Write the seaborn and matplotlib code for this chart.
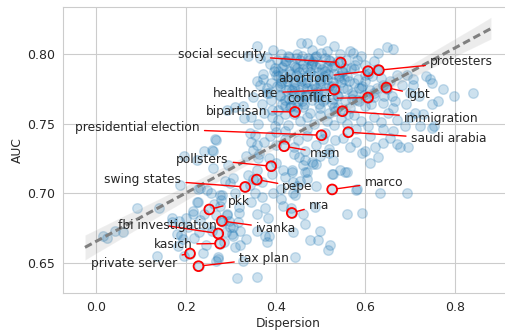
import matplotlib
matplotlib.use("Agg")
import matplotlib.pyplot as plt
import numpy as np
import seaborn as sns

# Background terms: dispersion vs. AUC, grouped by region of the cloud
tail_x = [0.016, 0.023, 0.042, 0.060, 0.090, 0.140, 0.135, 0.168, 0.169, 0.179,
          0.185, 0.190, 0.194, 0.187, 0.196, 0.200, 0.216, 0.227, 0.231, 0.246,
          0.255, 0.276, 0.278, 0.291, 0.298, 0.306, 0.272, 0.268, 0.313, 0.224,
          0.227, 0.216, 0.280, 0.276, 0.291, 0.283, 0.305, 0.302, 0.320, 0.287,
          0.305, 0.298, 0.196, 0.240, 0.260, 0.268, 0.257, 0.265, 0.294, 0.292,
          0.310, 0.328, 0.329, 0.335, 0.320, 0.328, 0.272, 0.224, 0.260, 0.310,
          0.318, 0.250, 0.240, 0.229]
tail_y = [0.669, 0.668, 0.673, 0.672, 0.689, 0.689, 0.655, 0.682, 0.679, 0.671,
          0.680, 0.670, 0.667, 0.706, 0.655, 0.682, 0.685, 0.694, 0.704, 0.702,
          0.700, 0.699, 0.695, 0.685, 0.676, 0.669, 0.654, 0.651, 0.639, 0.694,
          0.703, 0.687, 0.699, 0.691, 0.684, 0.679, 0.676, 0.671, 0.673, 0.709,
          0.711, 0.707, 0.727, 0.730, 0.730, 0.738, 0.731, 0.739, 0.720, 0.760,
          0.762, 0.763, 0.754, 0.727, 0.663, 0.651, 0.653, 0.724, 0.718, 0.700,
          0.690, 0.676, 0.685, 0.672]

tail2_x = [0.205, 0.218, 0.232, 0.244, 0.258, 0.266, 0.284, 0.296, 0.309, 0.318,
           0.182, 0.238, 0.262, 0.289, 0.315]
tail2_y = [0.676, 0.668, 0.681, 0.663, 0.673, 0.684, 0.665, 0.680, 0.661, 0.686,
           0.662, 0.657, 0.692, 0.672, 0.679]

mid_x = [0.339, 0.343, 0.358, 0.358, 0.376, 0.335, 0.376, 0.380, 0.358, 0.413,
         0.413, 0.346, 0.354, 0.393, 0.447, 0.439, 0.391, 0.417, 0.436, 0.469,
         0.462, 0.491, 0.465, 0.480, 0.528, 0.465, 0.528, 0.543, 0.558, 0.525,
         0.555, 0.581, 0.580, 0.633, 0.692, 0.436, 0.439, 0.454, 0.443, 0.462,
         0.465, 0.499, 0.476, 0.495, 0.521, 0.517, 0.558, 0.592, 0.488, 0.443,
         0.438, 0.385, 0.359, 0.383, 0.417, 0.434, 0.484, 0.453, 0.400, 0.370,
         0.360, 0.500, 0.520, 0.610, 0.440, 0.350, 0.370, 0.385, 0.400, 0.420,
         0.470, 0.490]
mid_y = [0.713, 0.706, 0.717, 0.685, 0.689, 0.667, 0.669, 0.665, 0.640, 0.703,
         0.696, 0.694, 0.700, 0.700, 0.705, 0.700, 0.714, 0.717, 0.717, 0.715,
         0.720, 0.721, 0.724, 0.7225, 0.724, 0.715, 0.714, 0.717, 0.715, 0.714,
         0.715, 0.703, 0.702, 0.700, 0.700, 0.715, 0.708, 0.709, 0.699, 0.685,
         0.678, 0.673, 0.666, 0.666, 0.663, 0.659, 0.685, 0.686, 0.690, 0.654,
         0.672, 0.669, 0.673, 0.682, 0.691, 0.689, 0.721, 0.726, 0.722, 0.708,
         0.725, 0.727, 0.729, 0.722, 0.728, 0.710, 0.697, 0.725, 0.735, 0.712,
         0.710, 0.705]

top_x = [0.380, 0.358, 0.395, 0.456, 0.469, 0.502, 0.573, 0.629, 0.649, 0.413,
         0.428, 0.447, 0.514, 0.543, 0.566, 0.339, 0.480, 0.490, 0.662, 0.531]
top_y = [0.798, 0.806, 0.803, 0.808, 0.808, 0.810, 0.801, 0.801, 0.805, 0.8005,
         0.799, 0.800, 0.802, 0.800, 0.802, 0.799, 0.803, 0.799, 0.804, 0.806]

band1_x = [0.387, 0.372, 0.405, 0.397, 0.420, 0.440, 0.455, 0.470, 0.480, 0.500,
           0.510, 0.525, 0.540, 0.555, 0.581, 0.600, 0.590, 0.460, 0.430, 0.415,
           0.620, 0.575, 0.495, 0.445, 0.365]
band1_y = [0.793, 0.786, 0.784, 0.788, 0.795, 0.792, 0.796, 0.790, 0.794, 0.793,
           0.797, 0.791, 0.795, 0.790, 0.796, 0.792, 0.799, 0.789, 0.788, 0.791,
           0.795, 0.789, 0.787, 0.785, 0.797]

band2_x = [0.358, 0.372, 0.365, 0.390, 0.410, 0.425, 0.440, 0.455, 0.470, 0.485,
           0.500, 0.515, 0.530, 0.545, 0.560, 0.575, 0.584, 0.600, 0.615, 0.655,
           0.670, 0.692, 0.707, 0.681, 0.735, 0.744, 0.748, 0.707, 0.640, 0.625,
           0.400, 0.430, 0.460, 0.490, 0.520, 0.550, 0.380, 0.590]
band2_y = [0.781, 0.782, 0.778, 0.779, 0.777, 0.781, 0.779, 0.783, 0.780, 0.784,
           0.779, 0.782, 0.786, 0.780, 0.784, 0.779, 0.7825, 0.781, 0.784, 0.781,
           0.785, 0.785, 0.7825, 0.778, 0.784, 0.7825, 0.779, 0.778, 0.778, 0.776,
           0.785, 0.775, 0.776, 0.776, 0.777, 0.776, 0.776, 0.776]

band3_x = [0.420, 0.430, 0.410, 0.440, 0.450, 0.465, 0.480, 0.495, 0.510, 0.525,
           0.540, 0.555, 0.570, 0.585, 0.600, 0.620, 0.640, 0.660, 0.774, 0.798,
           0.839, 0.763, 0.748, 0.690, 0.666, 0.662, 0.711, 0.728, 0.390, 0.370,
           0.350, 0.380, 0.421, 0.460, 0.500, 0.530, 0.565, 0.720, 0.700, 0.610,
           0.405]
band3_y = [0.767, 0.768, 0.771, 0.772, 0.766, 0.770, 0.767, 0.771, 0.768, 0.765,
           0.770, 0.767, 0.772, 0.766, 0.763, 0.769, 0.765, 0.770, 0.775, 0.770,
           0.772, 0.766, 0.7645, 0.7645, 0.766, 0.761, 0.758, 0.757, 0.767, 0.764,
           0.769, 0.772, 0.763, 0.762, 0.761, 0.762, 0.761, 0.770, 0.772, 0.774,
           0.760]

band4_x = [0.391, 0.406, 0.428, 0.398, 0.440, 0.455, 0.470, 0.485, 0.500, 0.515,
           0.530, 0.545, 0.560, 0.575, 0.590, 0.605, 0.620, 0.635, 0.650, 0.670,
           0.688, 0.722, 0.749, 0.752, 0.662, 0.360, 0.345, 0.375, 0.420, 0.470,
           0.520, 0.580, 0.640, 0.700]
band4_y = [0.755, 0.753, 0.749, 0.748, 0.757, 0.752, 0.755, 0.750, 0.756, 0.752,
           0.749, 0.754, 0.750, 0.756, 0.752, 0.748, 0.755, 0.751, 0.758, 0.7525,
           0.748, 0.748, 0.747, 0.748, 0.745, 0.750, 0.755, 0.758, 0.745, 0.746,
           0.758, 0.746, 0.746, 0.755]

band5_x = [0.343, 0.387, 0.421, 0.350, 0.358, 0.354, 0.345, 0.450, 0.532, 0.566,
           0.592, 0.629, 0.621, 0.640, 0.670, 0.677, 0.696, 0.400, 0.440, 0.470,
           0.490, 0.510, 0.550, 0.580, 0.610, 0.375, 0.465, 0.520, 0.600, 0.362,
           0.505, 0.655]
band5_y = [0.743, 0.741, 0.739, 0.731, 0.735, 0.742, 0.737, 0.738, 0.738, 0.733,
           0.7286, 0.726, 0.733, 0.736, 0.7357, 0.733, 0.733, 0.744, 0.733, 0.741,
           0.735, 0.743, 0.740, 0.737, 0.741, 0.737, 0.730, 0.732, 0.730, 0.728,
           0.739, 0.740]

core_x = [0.405, 0.418, 0.432, 0.447, 0.462, 0.476, 0.489, 0.503, 0.517, 0.531,
          0.412, 0.426, 0.441, 0.456, 0.472, 0.486, 0.498, 0.512, 0.527, 0.548,
          0.409, 0.423, 0.437, 0.451, 0.467, 0.482, 0.494, 0.508, 0.537, 0.558,
          0.445, 0.458, 0.474, 0.488, 0.502, 0.520, 0.541, 0.572, 0.435, 0.463]
core_y = [0.788, 0.792, 0.786, 0.790, 0.793, 0.787, 0.791, 0.789, 0.786, 0.792,
          0.779, 0.783, 0.776, 0.781, 0.785, 0.778, 0.782, 0.776, 0.780, 0.787,
          0.770, 0.774, 0.768, 0.773, 0.771, 0.775, 0.769, 0.773, 0.771, 0.775,
          0.797, 0.799, 0.796, 0.798, 0.801, 0.796, 0.784, 0.771, 0.763, 0.764]

core2_x = [0.385, 0.398, 0.411, 0.424, 0.437, 0.452, 0.466, 0.479, 0.493, 0.507,
           0.521, 0.535, 0.549, 0.563, 0.578, 0.592, 0.606, 0.620, 0.634, 0.648,
           0.392, 0.404, 0.417, 0.431, 0.444, 0.459, 0.473, 0.486, 0.500, 0.514,
           0.528, 0.542, 0.556, 0.570, 0.585, 0.599, 0.613, 0.627, 0.641, 0.402,
           0.415, 0.429, 0.443, 0.457, 0.471, 0.484, 0.497, 0.511, 0.525, 0.539,
           0.553, 0.567, 0.582, 0.596, 0.420, 0.448, 0.477, 0.505, 0.533, 0.561]
core2_y = [0.772, 0.790, 0.781, 0.795, 0.774, 0.787, 0.779, 0.792, 0.773, 0.784,
           0.795, 0.775, 0.788, 0.781, 0.792, 0.777, 0.786, 0.772, 0.783, 0.775,
           0.760, 0.777, 0.786, 0.762, 0.791, 0.766, 0.797, 0.771, 0.781, 0.791,
           0.768, 0.783, 0.796, 0.768, 0.776, 0.785, 0.764, 0.789, 0.770, 0.796,
           0.764, 0.798, 0.780, 0.771, 0.776, 0.795, 0.764, 0.788, 0.777, 0.762,
           0.782, 0.790, 0.767, 0.771, 0.757, 0.762, 0.758, 0.766, 0.759, 0.757]

# Highlighted terms
terms = ["social security", "protesters", "abortion", "healthcare", "lgbt",
         "conflict", "bipartisan", "immigration", "presidential election",
         "saudi arabia", "msm", "pollsters", "swing states", "pepe", "marco",
         "pkk", "nra", "fbi investigation", "ivanka", "kasich",
         "private server", "tax plan"]
term_x = [0.545, 0.630, 0.606, 0.531, 0.647, 0.606, 0.443, 0.549, 0.502, 0.562,
          0.419, 0.390, 0.332, 0.358, 0.526, 0.252, 0.436, 0.272, 0.280, 0.276,
          0.209, 0.228]
term_y = [0.794, 0.7885, 0.7878, 0.7746, 0.776, 0.7688, 0.7585, 0.759, 0.7417,
          0.7439, 0.7338, 0.7194, 0.7045, 0.7098, 0.7027, 0.6883, 0.6858, 0.671,
          0.680, 0.6638, 0.6566, 0.6475]

# Where each annotation text sits (data coords) and how it is aligned
label_layout = {
    "social security": (0.378, 0.7996, "right"),
    "protesters": (0.744, 0.7945, "left"),
    "abortion": (0.520, 0.7825, "right"),
    "healthcare": (0.406, 0.7714, "right"),
    "lgbt": (0.693, 0.7708, "left"),
    "conflict": (0.527, 0.7680, "right"),
    "bipartisan": (0.381, 0.7590, "right"),
    "immigration": (0.686, 0.7540, "left"),
    "presidential election": (0.231, 0.7470, "right"),
    "saudi arabia": (0.701, 0.7390, "left"),
    "msm": (0.476, 0.7286, "left"),
    "pollsters": (0.295, 0.7245, "right"),
    "swing states": (0.190, 0.7100, "right"),
    "pepe": (0.415, 0.7045, "left"),
    "marco": (0.598, 0.7080, "left"),
    "pkk": (0.293, 0.6937, "left"),
    "nra": (0.474, 0.6914, "left"),
    "fbi investigation": (0.269, 0.6765, "right"),
    "ivanka": (0.356, 0.6746, "left"),
    "kasich": (0.214, 0.6633, "right"),
    "private server": (0.181, 0.6494, "right"),
    "tax plan": (0.318, 0.6530, "left"),
}

sns.set_style("whitegrid")
plt.rcParams["font.family"] = ["DejaVu Sans"]

x_all = np.concatenate([tail_x, tail2_x, mid_x, top_x, band1_x, band2_x,
                        band3_x, band4_x, band5_x, core_x, core2_x, term_x])
y_all = np.concatenate([tail_y, tail2_y, mid_y, top_y, band1_y, band2_y,
                        band3_y, band4_y, band5_y, core_y, core2_y, term_y])

fig = plt.figure(figsize=(5.05, 3.31), dpi=100)
ax = fig.add_axes([0.124, 0.114, 0.8925, 0.865])

sns.regplot(x=x_all, y=y_all, ax=ax, truncate=False, ci=90, color="#1f77b4",
            scatter_kws=dict(s=48, alpha=0.22),
            line_kws=dict(color="gray", lw=2.2, linestyle=(0, (2.5, 1.3))))

sns.scatterplot(x=term_x, y=term_y, ax=ax, marker="o", s=50,
                facecolors="none", edgecolor="red", linewidth=1.3, zorder=4)

for t, px, py in zip(terms, term_x, term_y):
    lx, ly, ha = label_layout[t]
    ax.annotate(t, xy=(px, py), xytext=(lx, ly), ha=ha, va="center",
                fontsize=8.8, color=".15", zorder=5,
                arrowprops=dict(arrowstyle="-", color="red", lw=1,
                                shrinkA=1, shrinkB=3.5))

ax.set_xlim(-0.075, 0.93)
ax.set_ylim(0.628, 0.834)
ax.set_xticks([0.0, 0.2, 0.4, 0.6, 0.8])
ax.set_yticks([0.65, 0.70, 0.75, 0.80])
ax.tick_params(labelsize=9, pad=2, colors=".15")
ax.set_xlabel("Dispersion", fontsize=8.8, color=".15", labelpad=2.5)
ax.set_ylabel("AUC", fontsize=8.8, color=".15", labelpad=2.5)

fig.savefig("out.png", dpi=100)
